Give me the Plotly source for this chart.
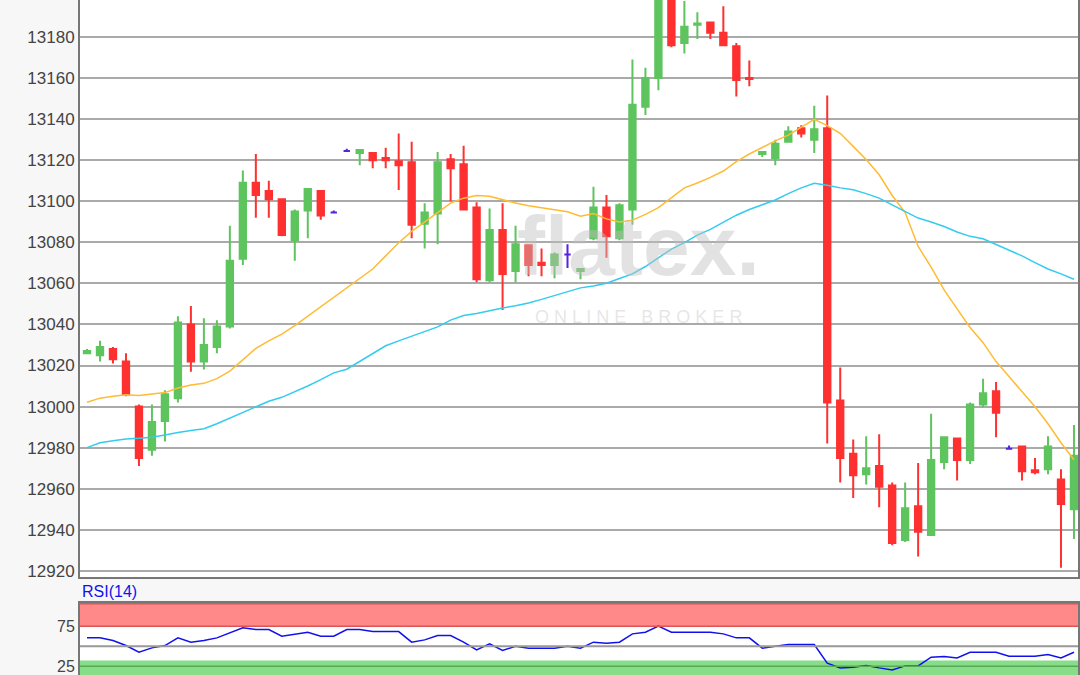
import plotly.graph_objects as go

open_ = [13026,13025,13028,13022,13000,12979,12993,13004,13040,13022,13029,13039,13072,13109,13105,13101,13081,13095.5,13105,13094.5,
         13124.5,13123.5,13123.5,13121,13119.5,13119,13089,13094,13120.5,13118,13097,13061.5,13086,13066,13078.5,13070,13069,13074,13066,13082,
         13097,13082,13096,13146,13160,13210,13177,13186,13187,13182,13175.5,13160,13123,13121,13129,13135.5,13130,13135.5,13003,12977,
         12967,12971,12961.5,12935,12951.5,12937.5,12973,12984.5,12974,13001,13007.5,12979.5,12980.5,12969,12969.5,12964.5,12950]
high = [13028,13032,13029,13026,13001,13001,13008,13044,13049,13043,13042,13088,13115,13123,13110,13101,13096,13106,13105,13095.5,
        13125.5,13125,13123.5,13126,13133,13129,13099,13124,13123,13127,13099.5,13096.5,13099,13088,13079,13077,13075,13079,13067,13107,
        13103,13099,13169,13165,13212,13215,13197.5,13192,13187,13195,13177,13168.5,13124,13130,13136.5,13137,13146.5,13151.5,13019,12984,
        12985.5,12986.5,12963,12963,12972.5,12996.5,12985,12984.5,13002,13013.5,13012,12981,12980.5,12975,12985.5,12969.5,12991]
low = [13026,13022,13021,13005,12971,12976,12983,13002,13017,13018,13026,13038,13069,13092,13092,13083,13071,13082,13091,13094.5,
       13124.5,13117.5,13116,13116,13105.5,13082,13077,13079,13100,13096,13060.5,13060.5,13047,13060.5,13063.5,13063.5,13062.5,13067.5,13062,13081,
       13072.5,13081,13088.5,13142,13154,13175,13172,13179,13179,13176,13151,13156,13121.5,13117.5,13129,13131,13123.5,12982,12963,12955.5,
       12962,12951,12932.5,12934,12927,12937.5,12969.5,12964,12972,12999.5,12985,12979,12964,12967,12967,12921.5,12935.5]
close = [13027,13029,13023,13006,12975,12992.5,13006,13041,13022,13030,13039,13071,13109,13103,13101,13083.5,13095,13106,13093,13094.5,
         13124.5,13125,13120,13120,13117.5,13088.5,13094.5,13119,13116,13096,13062,13086,13064.5,13079,13069,13069,13074,13074,13067,13097,
         13083,13098,13147,13160,13205,13176,13185,13186.5,13182,13176,13159,13159.5,13124,13128,13134,13133,13135,13002,12975,12966.5,
         12970,12961,12933.5,12950.5,12939,12974,12985,12974,13001,13006.5,12997,12979.5,12968.5,12968,12980.5,12952.5,12976]
ma_fast = [13002.1,13004.1,13005.0,13005.7,13005.4,13006.1,13006.8,13009.0,13010.5,13011.3,13013.6,13017.3,13022.8,13028.3,13032.0,13035.3,13039.4,13044.0,13048.6,13053.2,
           13057.8,13062.4,13067.0,13073.4,13079.8,13085.3,13089.9,13094.5,13099.1,13101.5,13102.8,13102.4,13100.6,13099.1,13097.8,13096.9,13096.0,13094.9,13092.7,13094.0,
           13091.4,13089.9,13090.8,13093.6,13096.9,13101.5,13106.5,13108.9,13111.6,13114.7,13119.3,13123.0,13126.3,13129.4,13132.2,13135.9,13139.9,13136.8,13133.1,13126.7,
           13120.3,13112.9,13102.8,13094.5,13078.0,13067.9,13056.8,13047.6,13038.5,13031.1,13021.9,13014.6,13007.2,12999.9,12991.6,12982.4,12974.1]
ma_slow = [12980.0,12982.4,12983.3,12984.2,12984.6,12985.1,12986.1,12987.4,12988.3,12989.2,12991.6,12994.3,12997.1,12999.9,13002.6,13004.5,13007.2,13010.0,13013.1,13016.4,
           13018.2,13021.9,13025.9,13029.6,13032.0,13034.2,13036.6,13038.8,13042.1,13044.3,13045.3,13046.7,13048.0,13049.1,13050.4,13052.2,13054.1,13055.9,13057.8,13058.7,
           13060.1,13062.4,13064.6,13068.2,13072.5,13076.7,13079.8,13083.5,13086.3,13089.9,13093.2,13096.0,13098.2,13100.6,13103.7,13106.5,13108.7,13107.8,13106.5,13105.6,
           13103.7,13101.5,13098.2,13095.1,13091.8,13089.9,13087.7,13085.0,13082.9,13081.7,13078.9,13076.1,13073.4,13070.1,13067.0,13064.6,13062.0]
rsi = [60.4,60.4,57.1,50.8,42.5,47.9,50.8,60.4,55.0,57.1,60.4,66.25,72.9,70.8,70.8,62.5,65.4,67.5,62.5,62.5,
       70.8,70.8,68.3,68.3,68.3,55.0,57.9,63.3,63.3,55.0,45.4,52.9,44.6,50.0,47.5,47.5,47.5,50.0,47.5,55.0,
       53.75,55.0,65.4,67.5,75.0,67.5,67.5,67.5,67.5,65.4,60.4,60.4,47.5,50.0,52.1,52.1,52.1,28.75,22.9,23.75,
       25.8,22.9,20.4,25.4,25.4,36.25,37.1,35.4,42.5,42.5,42.5,37.5,37.5,37.5,39.6,35.4,42.5]
y_ticks = [12920,12940,12960,12980,13000,13020,13040,13060,13080,13100,13120,13140,13160,13180]
rsi_ticks = [25, 75]

idx = list(range(1, len(open_) + 1))
doji = [i for i in range(len(open_)) if open_[i] == close[i]]
norm = [i for i in range(len(open_)) if open_[i] != close[i]]

def sub(arr, ids):
    return [arr[i] for i in ids]

fig = go.Figure()
fig.add_trace(go.Candlestick(
    x=sub(idx, norm), open=sub(open_, norm), high=sub(high, norm), low=sub(low, norm), close=sub(close, norm),
    increasing=dict(line=dict(color="#5ec45e", width=2), fillcolor="#5ec45e"),
    decreasing=dict(line=dict(color="#ff3030", width=2), fillcolor="#ff3030"),
    whiskerwidth=0, showlegend=False, xaxis="x", yaxis="y"))
fig.add_trace(go.Candlestick(
    x=sub(idx, doji), open=sub(open_, doji), high=sub(high, doji), low=sub(low, doji), close=sub(close, doji),
    increasing=dict(line=dict(color="#5522dd", width=2), fillcolor="#5522dd"),
    decreasing=dict(line=dict(color="#5522dd", width=2), fillcolor="#5522dd"),
    whiskerwidth=0, showlegend=False, xaxis="x", yaxis="y"))
fig.add_trace(go.Scatter(x=idx, y=ma_fast, mode="lines", line=dict(color="#ffbb33", width=1.5), showlegend=False))
fig.add_trace(go.Scatter(x=idx, y=ma_slow, mode="lines", line=dict(color="#33ccee", width=1.5), showlegend=False))
fig.add_trace(go.Scatter(x=idx, y=rsi, mode="lines", line=dict(color="#1111ee", width=1.5), showlegend=False,
                         xaxis="x2", yaxis="y2"))

xr = [0.46, 77.31]
shapes = [
    dict(type="rect", xref="x2", yref="y2", x0=xr[0], x1=xr[1], y0=75, y1=107.5, fillcolor="#ff8888", line=dict(width=0), layer="below"),
    dict(type="line", xref="x2", yref="y2", x0=xr[0], x1=xr[1], y0=103, y1=103, line=dict(color="#dd5555", width=1.5)),
    dict(type="line", xref="x2", yref="y2", x0=xr[0], x1=xr[1], y0=75, y1=75, line=dict(color="#dd5555", width=1.5)),
    dict(type="rect", xref="x2", yref="y2", x0=xr[0], x1=xr[1], y0=14, y1=32, fillcolor="#88dd88", line=dict(width=0), layer="below"),
    dict(type="line", xref="x2", yref="y2", x0=xr[0], x1=xr[1], y0=25, y1=25, line=dict(color="#55aa55", width=1.5)),
    dict(type="line", xref="x2", yref="y2", x0=xr[0], x1=xr[1], y0=50, y1=50, line=dict(color="#999999", width=2)),
]

fig.update_layout(
    width=1080, height=675, margin=dict(l=80, r=2, t=0, b=0),
    paper_bgcolor="#f7f7f7", plot_bgcolor="white",
    font=dict(family="Liberation Sans, Arial", color="#444444", size=17),
    shapes=shapes,
    xaxis=dict(range=xr, showticklabels=False, showgrid=False, rangeslider=dict(visible=False), automargin=False,
               domain=[0, 1], anchor="y", mirror=True, showline=True, linecolor="#777777", linewidth=2),
    yaxis=dict(range=[12917, 13198], domain=[0.1452, 1], tickvals=y_ticks, tickformat="d", gridcolor="#aaaaaa", gridwidth=2,
               automargin=False, showline=True, linecolor="#777777", linewidth=2, mirror=True, zeroline=False, ticks="", ticklen=0),
    xaxis2=dict(range=xr, showticklabels=False, showgrid=False, domain=[0, 1], anchor="y2", automargin=False,
                showline=True, linecolor="#777777", linewidth=2, mirror=True),
    yaxis2=dict(range=[14, 104], domain=[0, 0.1067], tickvals=rsi_ticks, showgrid=False, zeroline=False, automargin=False,
                tickfont=dict(size=16), showline=True, linecolor="#777777", linewidth=2, mirror=True, anchor="x2"),
    annotations=[
        dict(text="RSI(14)", xref="paper", yref="paper", x=0.0, y=0.108, xanchor="left", yanchor="bottom",
             showarrow=False, font=dict(color="#1111ee", size=16)),
        dict(text="<b>flatex.</b>", xref="paper", yref="paper", x=0.56, y=0.635, showarrow=False,
             font=dict(color="rgba(190,190,190,0.45)", size=84, family="Liberation Sans")),
        dict(text="O N L I N E   B R O K E R", xref="paper", yref="paper", x=0.56, y=0.53, showarrow=False,
             font=dict(color="rgba(200,200,200,0.45)", size=18, family="Liberation Sans")),
    ],
)
fig.write_html("out.html", config={"displayModeBar": False})
with open("out.html", encoding="utf-8") as f:
    html = f.read()
html = html.replace("<head>", "<head><style>html,body{margin:0;padding:0;overflow:hidden;}</style>", 1)
with open("out.html", "w", encoding="utf-8") as f:
    f.write(html)
